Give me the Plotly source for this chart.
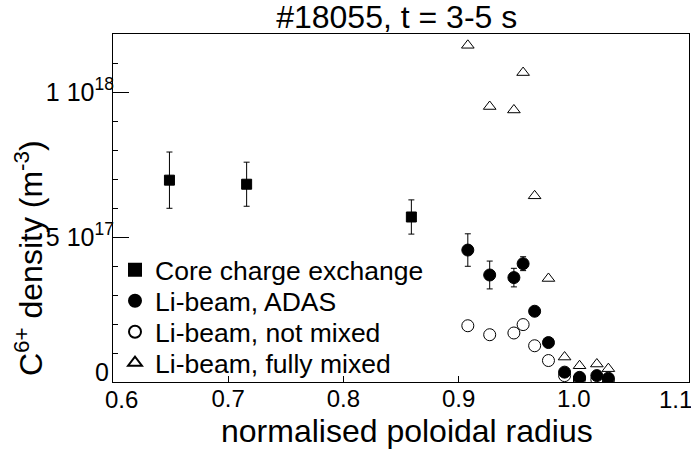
import plotly.graph_objects as go

# ---- data ----
x_cx = [0.649, 0.716, 0.859]
y_cx = [6.96e17, 6.82e17, 5.69e17]
err_cx = [0.97e17, 0.76e17, 0.59e17]

x_li = [0.908, 0.927, 0.948, 0.956, 0.966, 0.978, 0.992, 1.005, 1.020, 1.030]
y_adas = [4.55e17, 3.69e17, 3.60e17, 4.08e17, 2.44e17, 1.36e17, 0.34e17, 0.16e17, 0.22e17, 0.13e17]
err_adas = [0.56e17, 0.48e17, 0.32e17, 0.24e17, 0, 0, 0, 0, 0, 0]
y_notmixed = [1.94e17, 1.63e17, 1.69e17, 1.98e17, 1.25e17, 0.74e17, 0.22e17, 0.11e17, 0.08e17, 0.05e17]
y_fullmixed = [11.61e17, 9.50e17, 9.38e17, 10.67e17, 6.42e17, 3.57e17, 0.86e17, 0.56e17, 0.62e17, 0.46e17]

names = ["Core charge exchange", "Li-beam, ADAS", "Li-beam, not mixed", "Li-beam, fully mixed"]
y_ticks = [0, 5e17, 1e18]
y_ticktext = ["0", "5 10<sup>17</sup>", "1 10<sup>18</sup>"]
x_ticks = [0.6, 0.7, 0.8, 0.9, 1.0, 1.1]
x_ticktext = ["0.6", "0.7", "0.8", "0.9", "1.0", "1.1"]

FONT = "Liberation Sans, Arial, sans-serif"
W, H = 691, 450
ML, MR, MT, MB = 113, 2, 34, 68
PW, PH = W - ML - MR, H - MT - MB

def px2paper_x(px):
    return (px - ML) / PW

def py2paper_y(py):
    return (H - MB - py) / PH

fig = go.Figure()

fig.add_trace(go.Scatter(
    x=x_li, y=y_fullmixed, mode="markers", name=names[3], legend="legend4",
    marker=dict(symbol="triangle-up", size=11, color="white", line=dict(color="black", width=1)),
))
fig.add_trace(go.Scatter(
    x=x_li, y=y_notmixed, mode="markers", name=names[2], legend="legend3",
    marker=dict(symbol="circle", size=12, color="white", line=dict(color="black", width=1)),
))
fig.add_trace(go.Scatter(
    x=x_li, y=y_adas, mode="markers", name=names[1], legend="legend2",
    marker=dict(symbol="circle", size=12, color="black", line=dict(color="black", width=1)),
    error_y=dict(type="data", array=err_adas, color="black", thickness=1, width=3),
))
fig.add_trace(go.Scatter(
    x=x_cx, y=y_cx, mode="markers", name=names[0], legend="legend",
    marker=dict(symbol="square", size=10, color="black", line=dict(color="black", width=1)),
    error_y=dict(type="data", array=err_cx, color="black", thickness=1, width=3),
))

leg_rows = [270, 301, 332, 363]
leg_common = dict(font=dict(family=FONT, size=26.5, color="black"), bgcolor="rgba(0,0,0,0)",
                  xanchor="left", yanchor="middle", borderwidth=0, itemsizing="constant")
layout_legends = {}
for i, key in enumerate(["legend", "legend2", "legend3", "legend4"]):
    layout_legends[key] = dict(x=px2paper_x(115), y=py2paper_y(leg_rows[i]), **leg_common)

fig.update_layout(
    width=W, height=H,
    margin=dict(l=ML, r=MR, t=MT, b=MB, autoexpand=False),
    paper_bgcolor="white", plot_bgcolor="white",
    font=dict(family=FONT, color="black"),
    showlegend=True,
    title=dict(text="#18055, t = 3-5 s", font=dict(family=FONT, size=32, color="black"),
               x=396.7 / W, xanchor="center", xref="container",
               y=1 - 16.5 / H, yanchor="middle", yref="container"),
    **layout_legends,
)

# end labels of the x axis and the y "0" label sit shifted inward in the reference
x_axis_text = ["" if v in (0.6, 1.1) else t for v, t in zip(x_ticks, x_ticktext)]
y_axis_text = ["" if v == 0 else t for v, t in zip(y_ticks, y_ticktext)]

fig.update_xaxes(
    range=[0.6, 1.1], tickmode="array", tickvals=x_ticks, ticktext=x_axis_text,
    ticks="inside", ticklen=6, tickwidth=1, tickcolor="black", ticklabelstandoff=-5,
    showline=True, linecolor="black", linewidth=1, mirror=True,
    showgrid=False, zeroline=False,
    tickfont=dict(family=FONT, size=24, color="black"),
)
fig.update_yaxes(
    range=[0, 1.2e18], tickmode="array", tickvals=y_ticks, ticktext=y_axis_text,
    ticks="inside", ticklen=16, tickwidth=1, tickcolor="black", ticklabelstandoff=-7,
    minor=dict(dtick=1e17, tick0=0, ticks="inside", ticklen=5, tickcolor="black", tickwidth=1),
    showline=True, linecolor="black", linewidth=1, mirror=True,
    showgrid=False, zeroline=False,
    tickfont=dict(family=FONT, size=25, color="black"),
)

tick_font = dict(family=FONT, size=24, color="black")
fig.add_annotation(text=x_ticktext[0], xref="x", yref="paper", x=x_ticks[0], y=py2paper_y(399.5),
                   xshift=8, xanchor="center", yanchor="middle", showarrow=False, font=tick_font)
fig.add_annotation(text=x_ticktext[-1], xref="x", yref="paper", x=x_ticks[-1], y=py2paper_y(399.5),
                   xshift=-14, xanchor="center", yanchor="middle", showarrow=False, font=tick_font)
fig.add_annotation(text=y_ticktext[0], xref="paper", yref="y", x=px2paper_x(111), y=y_ticks[0],
                   yshift=10, xanchor="right", yanchor="middle", showarrow=False,
                   font=dict(family=FONT, size=25, color="black"))

fig.add_annotation(text="normalised poloidal radius", xref="paper", yref="paper",
                   x=px2paper_x(406.5), y=py2paper_y(431), xanchor="center", yanchor="middle",
                   showarrow=False, font=dict(family=FONT, size=32, color="black"))
fig.add_annotation(text="C<sup>6+</sup> density (m<sup>-3</sup>)", xref="paper", yref="paper",
                   x=px2paper_x(29), y=py2paper_y(258), xanchor="center", yanchor="middle",
                   textangle=-90, showarrow=False, font=dict(family=FONT, size=32, color="black"))

fig.write_html("out.html")
